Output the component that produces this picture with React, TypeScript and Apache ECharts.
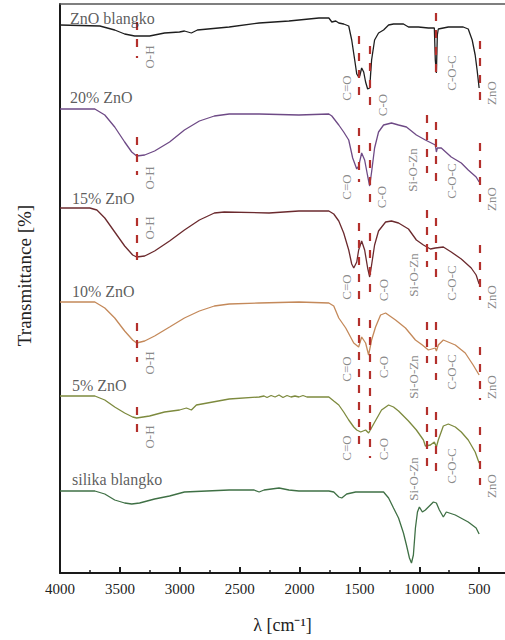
import React, { useEffect, useRef } from "react";
import * as echarts from "echarts";

// ---- axis ticks (wavenumber, cm-1) ----
const MAJOR_TICKS = [4000, 3500, 3000, 2500, 2000, 1500, 1000, 500];
const MINOR_TICKS = [3750, 3250, 2750, 2250, 1750, 1250, 750];

// ---- band positions (cm-1) ----
const PEAK_WN: Record<string, number> = {
  "O-H": 3360,
  "C=O": 1506,
  "C-O": 1414,
  "Si-O-Zn": 940,
  "C-O-C": 860,
  "ZnO": 497,
};

// ---- spectra: [wavenumber, stacked transmittance (a.u.)] ----
const znoBlangko: [number, number][] = [
  [4000, 548], [3667, 547], [3543, 543], [3460, 539], [3376, 537], [3252, 537], [3127, 540], [3002, 541],
  [2961, 542], [2903, 540], [2853, 543], [2587, 546], [2337, 550], [2088, 552], [1838, 555], [1755, 555],
  [1730, 551], [1697, 552], [1672, 550], [1631, 549], [1589, 547], [1564, 533], [1539, 513], [1522, 499],
  [1506, 496], [1497, 497], [1481, 505], [1464, 501], [1448, 491], [1431, 484], [1414, 485], [1398, 513],
  [1373, 533], [1340, 540], [1298, 543], [1256, 548], [1215, 549], [1132, 549], [1090, 546], [1007, 546],
  [924, 545], [874, 545], [866, 513], [857, 500], [849, 538], [841, 544], [757, 546], [633, 546],
  [591, 544], [558, 533], [533, 518], [517, 503], [500, 485],
];
const zno20: [number, number][] = [
  [4000, 464], [3709, 464], [3626, 458], [3543, 446], [3460, 431], [3401, 421], [3360, 417], [3293, 418],
  [3210, 422], [3085, 431], [2961, 443], [2836, 452], [2711, 457], [2587, 459], [2337, 459], [2005, 458],
  [1755, 459], [1730, 457], [1672, 448], [1631, 441], [1589, 433], [1556, 415], [1522, 404], [1506, 407],
  [1481, 420], [1456, 413], [1431, 397], [1414, 387], [1398, 401], [1373, 425], [1340, 441], [1298, 448],
  [1232, 450], [1173, 448], [1107, 446], [1024, 438], [949, 433], [866, 428], [857, 421], [849, 425],
  [816, 425], [733, 416], [649, 410], [591, 403], [525, 396], [500, 391],
];
const zno15: [number, number][] = [
  [4000, 365], [3751, 365], [3692, 363], [3626, 355], [3543, 341], [3460, 327], [3393, 318], [3360, 316],
  [3293, 317], [3210, 322], [3085, 332], [2961, 343], [2836, 353], [2711, 360], [2628, 361], [2254, 360],
  [2005, 362], [1755, 362], [1714, 359], [1672, 352], [1631, 340], [1589, 323], [1564, 309], [1547, 305],
  [1522, 311], [1506, 323], [1481, 332], [1456, 323], [1431, 305], [1414, 296], [1398, 308], [1373, 328],
  [1340, 342], [1281, 351], [1232, 352], [1173, 350], [1090, 344], [1024, 333], [965, 328], [907, 324],
  [866, 325], [799, 326], [733, 321], [649, 314], [566, 305], [525, 298], [500, 289],
];
const zno10: [number, number][] = [
  [4000, 271], [3709, 271], [3626, 265], [3543, 255], [3460, 242], [3393, 233], [3360, 230], [3293, 232],
  [3210, 237], [3085, 246], [2961, 255], [2836, 262], [2711, 267], [2587, 269], [2337, 270], [2005, 271],
  [1755, 270], [1714, 267], [1672, 255], [1614, 245], [1547, 230], [1506, 226], [1481, 236], [1448, 230],
  [1423, 218], [1398, 233], [1365, 246], [1323, 258], [1281, 260], [1198, 253], [1115, 245], [1032, 233],
  [974, 228], [924, 223], [866, 225], [857, 222], [841, 228], [799, 233], [699, 228], [616, 220],
  [550, 208], [500, 198],
];
const zno5: [number, number][] = [
  [4000, 177], [3709, 177], [3626, 173], [3543, 166], [3460, 160], [3393, 156], [3360, 155], [3252, 157],
  [3127, 161], [3002, 163], [2944, 165], [2903, 163], [2861, 168], [2587, 174], [2337, 176], [2296, 177],
  [2271, 175.5], [2237, 177.5], [2204, 176], [2171, 178], [2138, 175.5], [2104, 177.5], [2071, 176], [2038, 177],
  [2005, 176], [1971, 177.5], [1938, 176], [1755, 176], [1714, 172], [1672, 168], [1631, 161], [1589, 153],
  [1547, 146], [1522, 143], [1489, 141], [1448, 143], [1423, 140], [1381, 149], [1315, 163], [1256, 168],
  [1215, 166], [1173, 162], [1090, 152], [1024, 143], [965, 133], [949, 127], [907, 128], [874, 131],
  [857, 126], [841, 133], [799, 147], [757, 149], [699, 146], [649, 141], [591, 133], [533, 121], [500, 110],
];
const silikaBlangko: [number, number][] = [
  [4000, 82], [3709, 82], [3626, 79], [3543, 73], [3460, 70], [3401, 69], [3335, 70], [3210, 74],
  [3085, 77], [2961, 81], [2587, 83], [2379, 83], [2337, 81], [2296, 83], [2171, 85], [2088, 83],
  [2005, 82], [1755, 82], [1714, 81], [1672, 76], [1647, 75], [1606, 79], [1531, 81], [1298, 81],
  [1256, 75], [1215, 65], [1173, 55], [1132, 40], [1107, 28], [1082, 15], [1065, 10], [1049, 18],
  [1032, 45], [1015, 61], [999, 66], [974, 61], [949, 63], [882, 71], [857, 70], [832, 63],
  [799, 56], [774, 61], [699, 58], [591, 51], [525, 45], [500, 39],
];

// ---- band marker segments: [band, upper value, lower value] ----
const dashZnOBlangko: [string, number, number][] = [
  ["O-H", 551, 515], ["C=O", 537, 477], ["C-O", 527, 466], ["C-O-C", 560, 500], ["ZnO", 532, 473],
];
const dash20: [string, number, number][] = [
  ["O-H", 436, 398], ["C=O", 445, 391], ["C-O", 430, 368], ["Si-O-Zn", 458, 400], ["C-O-C", 451, 391], ["ZnO", 430, 370],
];
const dash15: [string, number, number][] = [
  ["O-H", 355, 305], ["C=O", 350, 273], ["C-O", 340, 276], ["Si-O-Zn", 363, 306], ["C-O-C", 355, 295], ["ZnO", 328, 273],
];
const dash10: [string, number, number][] = [
  ["O-H", 250, 211], ["C=O", 255, 193], ["C-O", 253, 193], ["Si-O-Zn", 251, 210], ["C-O-C", 251, 193], ["ZnO", 226, 173],
];
const dash5: [string, number, number][] = [
  ["O-H", 166, 133], ["C=O", 188, 128], ["C-O", 185, 115], ["Si-O-Zn", 166, 103], ["C-O-C", 161, 101], ["ZnO", 146, 88],
];
const dashSilika: [string, number, number][] = [];

// ---- band labels: [text, wavenumber, value] ----
const labZnOBlangko: [string, number, number][] = [
  ["O-H", 3252, 516], ["C=O", 1606, 485], ["C-O", 1306, 468], ["C-O-C", 733, 500], ["ZnO", 400, 480],
];
const lab20: [string, number, number][] = [
  ["O-H", 3252, 395], ["C=O", 1606, 386], ["C-O", 1315, 376], ["Si-O-Zn", 1057, 403], ["C-O-C", 733, 392], ["ZnO", 400, 374],
];
const lab15: [string, number, number][] = [
  ["O-H", 3252, 345], ["C=O", 1606, 286], ["C-O", 1298, 283], ["Si-O-Zn", 1049, 298], ["C-O-C", 733, 290], ["ZnO", 400, 276],
];
const lab10: [string, number, number][] = [
  ["O-H", 3252, 210], ["C=O", 1606, 204], ["C-O", 1298, 206], ["Si-O-Zn", 1049, 196], ["C-O-C", 733, 201], ["ZnO", 400, 186],
];
const lab5: [string, number, number][] = [
  ["O-H", 3252, 136], ["C=O", 1606, 125], ["C-O", 1298, 124], ["Si-O-Zn", 1049, 94], ["C-O-C", 733, 107], ["ZnO", 400, 87],
];

// ---- sample names and where they sit ----
const SAMPLE_NAMES = ["ZnO blangko", "20% ZnO", "15% ZnO", "10% ZnO", "5% ZnO", "silika blangko"];
const NAME_POS: [number, number][] = [[3917, 555], [3917, 476], [3900, 375], [3900, 282], [3900, 188], [3900, 94]];
const COLORS = ["#1e1e1e", "#6e4a86", "#6b2a2e", "#c4895a", "#7d8a3e", "#3f7045"];
const SPECTRA = [znoBlangko, zno20, zno15, zno10, zno5, silikaBlangko];
const DASHES = [dashZnOBlangko, dash20, dash15, dash10, dash5, dashSilika];
const LABELS = [labZnOBlangko, lab20, lab15, lab10, lab5];

const SERIF = "'Liberation Serif', 'Times New Roman', serif";

export default function App() {
  const ref = useRef<HTMLDivElement>(null);

  useEffect(() => {
    if (!ref.current) return;
    const chart = echarts.init(ref.current, undefined, { renderer: "svg" });

    const lineSeries = SPECTRA.map((data, i) => ({
      type: "line",
      name: SAMPLE_NAMES[i],
      data,
      xAxisIndex: 0,
      yAxisIndex: 0,
      showSymbol: false,
      symbol: "none",
      smooth: false,
      lineStyle: { color: COLORS[i], width: 1.3 },
      z: 3,
      markLine: {
        silent: true,
        symbol: ["none", "none"],
        label: { show: false },
        lineStyle: { color: "#b3302c", width: 2.2, type: [8, 9] },
        data: DASHES[i].map(([band, top, bottom]) => [
          { coord: [PEAK_WN[band], top] },
          { coord: [PEAK_WN[band], bottom] },
        ]),
      },
    }));

    const bandLabelData = LABELS.flat().map(([text, wn, v]) => ({ name: text, value: [wn, v] }));
    const nameData = SAMPLE_NAMES.map((n, i) => ({ name: n, value: NAME_POS[i] }));

    chart.setOption({
      animation: false,
      backgroundColor: "#ffffff",
      grid: { left: 60, right: -2, top: 4, bottom: 67, containLabel: false },
      xAxis: [
        {
          type: "value",
          min: 284,
          max: 4000,
          inverse: true,
          position: "bottom",
          axisLine: { show: true, lineStyle: { color: "#1a1a1a", width: 2 } },
          axisTick: { show: true, inside: true, length: 6, customValues: MAJOR_TICKS, lineStyle: { color: "#1a1a1a", width: 2 } },
          axisLabel: {
            show: true,
            customValues: MAJOR_TICKS,
            formatter: (v: number) => String(v),
            margin: 8,
            fontFamily: SERIF,
            fontSize: 15,
            color: "#222",
          },
          splitLine: { show: false },
          name: "λ [cm⁻¹]",
          nameLocation: "middle",
          nameGap: 43,
          nameTextStyle: { fontFamily: SERIF, fontSize: 18, color: "#222" },
        },
        {
          type: "value",
          min: 284,
          max: 4000,
          inverse: true,
          position: "bottom",
          axisLine: { show: false },
          axisTick: { show: true, inside: true, length: 3, customValues: MINOR_TICKS, lineStyle: { color: "#1a1a1a", width: 1.5 } },
          axisLabel: { show: false },
          splitLine: { show: false },
        },
        {
          type: "value",
          min: 284,
          max: 4000,
          inverse: true,
          position: "top",
          axisLine: { show: true, lineStyle: { color: "#555", width: 1.5 } },
          axisTick: { show: false },
          axisLabel: { show: false },
          splitLine: { show: false },
        },
      ],
      yAxis: {
        type: "value",
        min: 0,
        max: 569,
        axisLine: { show: true, lineStyle: { color: "#1a1a1a", width: 2 } },
        axisTick: { show: false },
        axisLabel: { show: false },
        splitLine: { show: false },
        name: "Transmittance [%]",
        nameLocation: "middle",
        nameRotate: 90,
        nameGap: 26,
        nameTextStyle: { fontFamily: SERIF, fontSize: 19, color: "#222", padding: [0, 0, 0, 26] },
      },
      series: [
        ...lineSeries,
        {
          type: "scatter",
          name: "band labels",
          data: bandLabelData,
          symbolSize: 0,
          silent: true,
          clip: false,
          z: 5,
          label: {
            show: true,
            formatter: "{b}",
            position: "inside",
            rotate: 90,
            fontFamily: SERIF,
            fontSize: 13,
            color: "#6a6a6a",
          },
        },
        {
          type: "scatter",
          name: "sample names",
          data: nameData,
          symbolSize: 0,
          silent: true,
          clip: false,
          z: 5,
          label: {
            show: true,
            formatter: "{b}",
            position: "right",
            distance: 0,
            fontFamily: SERIF,
            fontSize: 16,
            color: "#333",
          },
        },
      ],
    });

    return () => chart.dispose();
  }, []);

  return (
    <div
      ref={ref}
      style={{ position: "fixed", left: 0, top: 0, width: 505, height: 640, background: "#fff" }}
    />
  );
}
